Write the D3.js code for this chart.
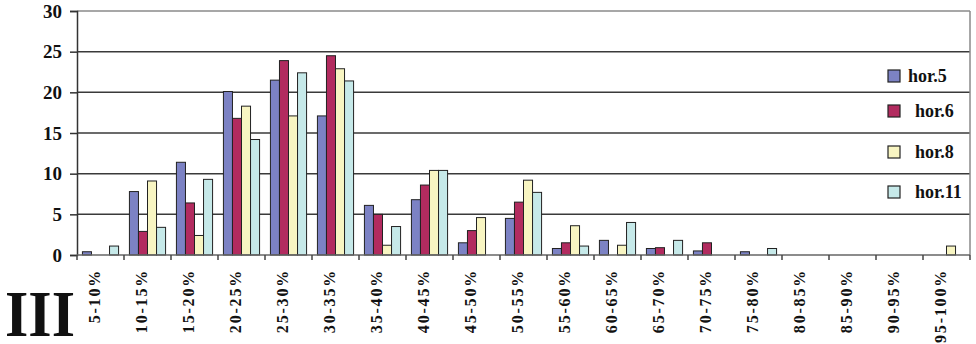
<!DOCTYPE html>
<html>
<head>
<meta charset="utf-8">
<script src="https://cdn.jsdelivr.net/npm/d3@7"></script>
<style>
  html, body { margin: 0; padding: 0; background: #fff; }
  svg { display: block; }
  text { font-family: "Liberation Serif", Tinos, "Times New Roman", Times, serif; font-weight: 700; fill: #111; }
</style>
</head>
<body>
<svg id="chart" width="976" height="344"></svg>
<script>
// Class intervals on the x axis
const categories = ["5-10%", "10-15%", "15-20%", "20-25%", "25-30%", "30-35%", "35-40%",
  "40-45%", "45-50%", "50-55%", "55-60%", "60-65%", "65-70%", "70-75%", "75-80%",
  "80-85%", "85-90%", "90-95%", "95-100%"];

// Percentage of observations per class, one array per horizon
const hor5  = [0.4, 7.8, 11.4, 20.1, 21.5, 17.1, 6.1, 6.8, 1.5, 4.5, 0.8, 1.8, 0.8, 0.5, 0.4, 0, 0, 0, 0];
const hor6  = [0, 2.9, 6.4, 16.8, 23.9, 24.5, 5.0, 8.6, 3.0, 6.5, 1.5, 0, 0.9, 1.5, 0, 0, 0, 0, 0];
const hor8  = [0, 9.1, 2.4, 18.3, 17.1, 22.9, 1.2, 10.4, 4.6, 9.2, 3.6, 1.2, 0, 0, 0, 0, 0, 0, 1.1];
const hor11 = [1.1, 3.4, 9.3, 14.2, 22.4, 21.4, 3.5, 10.4, 0, 7.7, 1.1, 4.0, 1.8, 0, 0.8, 0, 0, 0, 0];

const seriesNames = ["hor.5", "hor.6", "hor.8", "hor.11"];
const seriesValues = [hor5, hor6, hor8, hor11];
const seriesColors = ["#7c82c4", "#b22b5f", "#f8f5c2", "#c6e9e9"];

const yTicks = [0, 5, 10, 15, 20, 25, 30];
const panelLabel = "III";

const FONT = "'Liberation Serif', Tinos, 'Times New Roman', Times, serif";

const svg = d3.select("#chart");
const plot = { left: 77, right: 970, top: 11, bottom: 255 };

const x0 = d3.scaleBand().domain(categories).range([plot.left, plot.right]).paddingInner(0).paddingOuter(0);
const x1 = d3.scaleBand().domain(seriesNames).range([0, x0.bandwidth()]).paddingInner(0).paddingOuter(0.6);
const y = d3.scaleLinear().domain([0, 30]).range([plot.bottom, plot.top]);

// Horizontal gridlines
svg.append("g").selectAll("line")
  .data(yTicks.filter(t => t > 0))
  .join("line")
  .attr("x1", plot.left).attr("x2", plot.right)
  .attr("y1", d => y(d)).attr("y2", d => y(d))
  .attr("stroke", d => d === 30 ? "#8a8a8a" : "#3a3a3a")
  .attr("stroke-width", 1.5);

// Right border of the plot area
svg.append("line")
  .attr("x1", plot.right).attr("x2", plot.right)
  .attr("y1", plot.top).attr("y2", plot.bottom)
  .attr("stroke", "#8a8a8a").attr("stroke-width", 1.5);

// Bars
const rows = [];
categories.forEach((c, i) => {
  seriesNames.forEach((s, j) => {
    rows.push({ cat: c, series: s, value: seriesValues[j][i], color: seriesColors[j] });
  });
});
svg.append("g").selectAll("rect")
  .data(rows.filter(d => d.value > 0))
  .join("rect")
  .attr("x", d => x0(d.cat) + x1(d.series))
  .attr("width", x1.bandwidth())
  .attr("y", d => y(d.value))
  .attr("height", d => y(0) - y(d.value))
  .attr("fill", d => d.color)
  .attr("stroke", "#222")
  .attr("stroke-width", 1);

// Y axis
const yAxis = svg.append("g")
  .attr("transform", `translate(${plot.left},0)`)
  .call(d3.axisLeft(y).tickValues(yTicks).tickSize(7).tickPadding(8).tickFormat(d3.format("d")));
yAxis.select(".domain").attr("stroke", "#333").attr("stroke-width", 1.5);
yAxis.selectAll(".tick line").attr("stroke", "#333").attr("stroke-width", 1.5);
yAxis.selectAll(".tick text")
  .style("font-family", FONT)
  .style("font-weight", "700")
  .style("font-size", "19px")
  .attr("fill", "#111");

// X axis baseline with ticks on class boundaries
svg.append("line")
  .attr("x1", plot.left).attr("x2", plot.right)
  .attr("y1", y(0)).attr("y2", y(0))
  .attr("stroke", "#666").attr("stroke-width", 1.5);
svg.append("g").selectAll("line")
  .data(categories.map(c => x0(c)).concat([plot.right]))
  .join("line")
  .attr("x1", d => d).attr("x2", d => d)
  .attr("y1", y(0)).attr("y2", y(0) + 5)
  .attr("stroke", "#444").attr("stroke-width", 1.5);

// Rotated class labels
svg.append("g").selectAll("text")
  .data(categories)
  .join("text")
  .attr("transform", d => `translate(${x0(d) + x0.bandwidth() / 2 - 6},269) rotate(-90)`)
  .attr("text-anchor", "end")
  .attr("dy", "0.35em")
  .style("font-family", FONT)
  .style("font-size", "16px")
  .style("letter-spacing", "1.8px")
  .text(d => d);

// Legend
const legend = svg.append("g");
const legendY = [76, 111, 152, 192];
seriesNames.forEach((s, j) => {
  const g = legend.append("g").attr("transform", `translate(888,${legendY[j]})`);
  g.append("rect").attr("x", 0).attr("y", -6).attr("width", 12).attr("height", 12)
    .attr("fill", seriesColors[j]).attr("stroke", "#222").attr("stroke-width", 1.2);
  g.append("text").attr("x", j === 0 ? 20 : 27).attr("dy", "0.35em")
    .style("font-family", FONT)
    .style("font-size", "18px").text(s);
});

// Panel label
svg.append("text")
  .attr("x", 5).attr("y", 336)
  .attr("textLength", 70).attr("lengthAdjust", "spacingAndGlyphs")
  .style("font-family", FONT)
  .style("font-size", "66px")
  .text(panelLabel);
</script>
</body>
</html>
